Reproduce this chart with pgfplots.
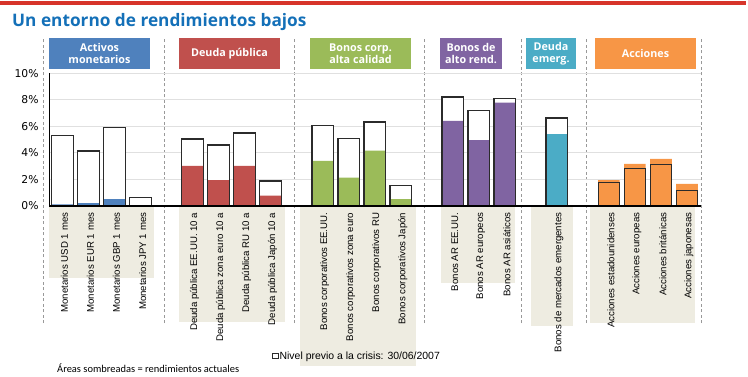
\documentclass[border=0pt]{standalone}
\usepackage{pgfplots}
\pgfplotsset{compat=1.18}
\usepackage{fontspec}
\setmainfont{Liberation Sans}
\newfontfamily\dejavu{DejaVu Sans}
\newfontfamily\opensans{Open Sans}
\newfontfamily\carlito{Carlito}
\definecolor{cblue}{HTML}{4F81BD}
\definecolor{cred}{HTML}{C0504D}
\definecolor{cgreen}{HTML}{9BBB59}
\definecolor{cpurple}{HTML}{8064A2}
\definecolor{cteal}{HTML}{4BACC6}
\definecolor{corange}{HTML}{F79646}
\definecolor{beige}{HTML}{EEECE1}
\definecolor{titleblue}{HTML}{1470B8}
\definecolor{redline}{HTML}{D7342A}
\definecolor{outl}{HTML}{2B2B2B}
\begin{document}
\begin{tikzpicture}
\begin{scope}[x=1bp,y=1bp]
\path[use as bounding box] (0,0) rectangle (748,376);
% top line and title
\fill[redline] (0,371.3) rectangle (746,374.6);
\node[anchor=base west, text=titleblue, font=\opensans\bfseries\fontsize{17.3}{19}\selectfont, inner sep=0pt] at (12,349.3) {Un entorno de rendimientos bajos};
% beige label areas
\fill[beige] (49,98) rectangle (154,170);
\fill[beige] (179,54) rectangle (285,170);
\fill[beige] (300,10) rectangle (416,170);
\fill[beige] (441,93) rectangle (515,170);
\fill[beige] (531,50) rectangle (573,170);
\fill[beige] (590,53) rectangle (695,170);
% separators
\foreach \sx in {43.5,164,294,424,521.7,586,701}
  \draw[black!40, dash pattern=on 3bp off 2.5bp, line width=0.6bp] (\sx,53) -- (\sx,338);
% header boxes
\tikzset{hdr/.style={text=white, font=\opensans\bfseries\fontsize{10.8}{11.8}\selectfont, align=center, inner sep=0pt}}
\fill[cblue] (49,307) rectangle (150,338);
\node[hdr] at (99.5,322.5) {Activos\\monetarios};
\fill[cred] (179,307) rectangle (280,338);
\node[hdr] at (229.5,322.5) {Deuda pública};
\fill[cgreen] (310,307) rectangle (411,338);
\node[hdr] at (360.5,322.5) {Bonos corp.\\alta calidad};
\fill[cpurple] (440,307) rectangle (502,338);
\node[hdr] at (471,322.5) {Bonos de\\alto rend.};
\fill[cteal] (526,307) rectangle (576,338);
\node[hdr] at (551,322.5) {Deuda\\emerg.};
\fill[corange] (595,307) rectangle (696,338);
\node[hdr] at (645.5,322.5) {Acciones};
% footnote
\node[anchor=base west, font=\carlito\fontsize{10.5}{12}\selectfont, inner sep=0pt] at (57,4) {Áreas sombreadas = rendimientos actuales};
\end{scope}
\begin{axis}[
  at={(49bp,170.3bp)}, anchor=south west,
  scale only axis, width=651.5bp, height=132.4bp,
  xmin=-0.519, xmax=24.52, ymin=0, ymax=10,
  clip=false,
  axis line style={draw=none},
  major tick length=0pt,
  ytick={0,2,4,6,8,10},
  yticklabel={\pgfmathprintnumber{\tick}\%},
  /pgf/number format/assume math mode=true,
  yticklabel style={font=\dejavu\fontsize{10.8}{12}\selectfont, anchor=east, xshift=-7bp},
  ymajorgrids,
  grid style={color=black!12, line width=0.6bp},
  xtick={0,1,2,3,5,6,7,8,10,11,12,13,15,16,17,19,21,22,23,24},
  xticklabels={{Monetarios USD 1 mes},{Monetarios EUR 1 mes},{Monetarios GBP 1 mes},{Monetarios JPY 1 mes},
    {Deuda pública EE.UU. 10 a},{Deuda pública zona euro 10 a},{Deuda pública RU 10 a},{Deuda pública Japón 10 a},
    {Bonos corporativos EE.UU.},{Bonos corporativos zona euro},{Bonos corporativos RU},{Bonos corporativos Japón},
    {Bonos AR EE.UU.},{Bonos AR europeos},{Bonos AR asiáticos},
    {Bonos de mercados emergentes},
    {Acciones estadounidenses},{Acciones europeas},{Acciones británicas},{Acciones japonesas}},
  xticklabel style={rotate=90, anchor=east, font=\fontsize{9.7}{10}\selectfont, xshift=-3.5bp, yshift=-2bp},
  legend style={at={(axis description cs:0.342,-1.135)}, anchor=west, draw=none, fill=none,
    font=\fontsize{10.5}{12}\selectfont, inner sep=0pt, nodes={inner sep=0.8bp}},
  legend image code/.code={\draw[outl, fill=white, line width=1.2bp] (0bp,-2.8bp) rectangle (5.6bp,2.8bp);},
]
% pre-crisis level, white fill
\addplot[ybar, bar width=0.83, bar shift=0pt, fill=white, draw=none, forget plot] coordinates {
 (0,5.32) (1,4.13) (2,5.92) (3,0.63)
 (5,5.04) (6,4.58) (7,5.49) (8,1.87)
 (10,6.04) (11,5.09) (12,6.32) (13,1.54)
 (15,8.21) (16,7.20) (17,8.11)
 (19,6.62)
 (21,1.77) (22,2.82) (23,3.12) (24,1.16)};
% current yields
\addplot[ybar, bar width=0.83, bar shift=0pt, fill=cblue, draw=none, forget plot] coordinates {(0,0.10) (1,0.20) (2,0.50) (3,0.05)};
\addplot[ybar, bar width=0.83, bar shift=0pt, fill=cred, draw=none, forget plot] coordinates {(5,3.00) (6,1.94) (7,3.00) (8,0.76)};
\addplot[ybar, bar width=0.83, bar shift=0pt, fill=cgreen, draw=none, forget plot] coordinates {(10,3.38) (11,2.12) (12,4.16) (13,0.50)};
\addplot[ybar, bar width=0.83, bar shift=0pt, fill=cpurple, draw=none, forget plot] coordinates {(15,6.40) (16,4.96) (17,7.78)};
\addplot[ybar, bar width=0.83, bar shift=0pt, fill=cteal, draw=none, forget plot] coordinates {(19,5.41)};
\addplot[ybar, bar width=0.83, bar shift=0pt, fill=corange, draw=none, forget plot] coordinates {(21,1.94) (22,3.15) (23,3.53) (24,1.64)};
% pre-crisis outline
\addplot[ybar, bar width=0.83, bar shift=0pt, fill=none, draw=outl, line width=1.2bp] coordinates {
 (0,5.32) (1,4.13) (2,5.92) (3,0.63)
 (5,5.04) (6,4.58) (7,5.49) (8,1.87)
 (10,6.04) (11,5.09) (12,6.32) (13,1.54)
 (15,8.21) (16,7.20) (17,8.11)
 (19,6.62)
 (21,1.77) (22,2.82) (23,3.12) (24,1.16)};
\addlegendentry{Nivel previo a la crisis: 30/06/2007}
% axis lines
\draw[black, line width=0.9bp] (axis cs:-0.519,0) -- (axis cs:-0.519,10);
\draw[black, line width=1.8bp] (axis cs:-0.519,0) -- (axis cs:24.52,0);
\end{axis}
\end{tikzpicture}
\end{document}
